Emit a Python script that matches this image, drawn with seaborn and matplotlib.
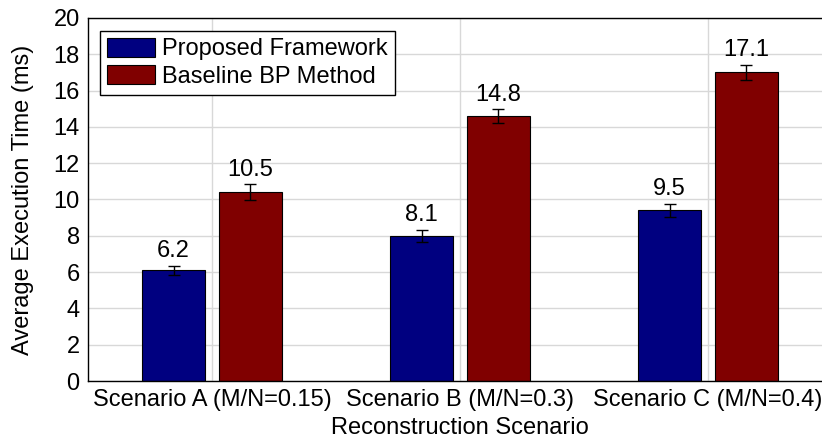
import pandas as pd
import seaborn as sns
import matplotlib.pyplot as plt

# Values
scenarios = ["Scenario A (M/N=0.15)", "Scenario B (M/N=0.3)", "Scenario C (M/N=0.4)"]
methods = ["Proposed Framework", "Baseline BP Method"]
proposed_time = [6.1, 8.0, 9.4]
baseline_time = [10.4, 14.6, 17.0]
proposed_err = [0.25, 0.32, 0.36]
baseline_err = [0.43, 0.36, 0.41]
proposed_labels = ["6.2", "8.1", "9.5"]
baseline_labels = ["10.5", "14.8", "17.1"]
y_ticks = [0, 2, 4, 6, 8, 10, 12, 14, 16, 18, 20]

df = pd.DataFrame({
    "scenario": scenarios * 2,
    "method": [methods[0]] * 3 + [methods[1]] * 3,
    "time": proposed_time + baseline_time,
})

sns.set_style("whitegrid")
plt.rcParams["font.family"] = ["Liberation Sans", "DejaVu Sans"]
plt.rcParams["text.color"] = "black"
plt.rcParams["axes.labelcolor"] = "black"
plt.rcParams["xtick.color"] = "black"
plt.rcParams["ytick.color"] = "black"
FS = 17

fig = plt.figure(figsize=(8.22, 4.41), dpi=100)
ax = fig.add_axes([88 / 822, 60 / 441, 744 / 822, 363 / 441])

sns.barplot(data=df, x="scenario", y="time", hue="method",
            palette=["#000080", "#800000"], saturation=1, width=0.62, gap=0.18,
            edgecolor="black", linewidth=0.8, errorbar=None, ax=ax)

# error bars + value labels on top of each bar
errs = proposed_err + baseline_err
labels = proposed_labels + baseline_labels
for bar, err, lab in zip(ax.patches[:6], errs, labels):
    xc = bar.get_x() + bar.get_width() / 2
    h = bar.get_height()
    ax.errorbar(xc, h, yerr=err, color="black", capsize=4, elinewidth=1, capthick=1)
    ax.text(xc, h + err + 0.2, lab, ha="center", va="bottom", fontsize=FS)

ax.set_xlim(-0.5, 2.5)
ax.set_ylim(0, 20)
ax.set_yticks(y_ticks)
ax.tick_params(axis="both", labelsize=FS, direction="in", length=4, pad=6)
ax.set_xlabel("Reconstruction Scenario", fontsize=FS, labelpad=4)
ax.set_ylabel("Average Execution Time (ms)", fontsize=FS, labelpad=14)
ax.grid(True, color="#d8d8d8", linewidth=1)
for s in ax.spines.values():
    s.set_color("black")
    s.set_linewidth(1)

leg = ax.legend(loc="upper left", fontsize=FS, frameon=True, fancybox=False,
                edgecolor="black", framealpha=1, handlelength=2.05, handleheight=0.85,
                borderpad=0.3, labelspacing=0.2, handletextpad=0.3,
                borderaxespad=0, bbox_to_anchor=(0.016, 0.965))
leg.get_frame().set_linewidth(1)

fig.savefig("out.png", dpi=100)
